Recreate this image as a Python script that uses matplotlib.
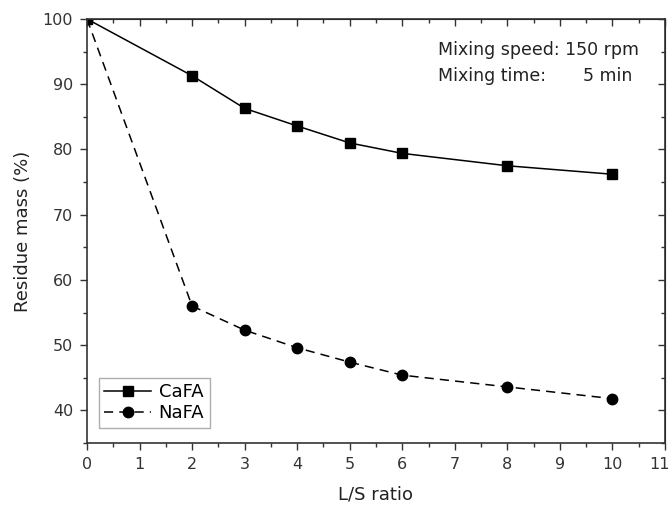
import matplotlib.pyplot as plt
import matplotlib.transforms as mtransforms
from matplotlib.ticker import MultipleLocator

# data
ls_ratio = [0, 2, 3, 4, 5, 6, 8, 10]
cafa_mass = [100, 91.3, 86.3, 83.6, 81.0, 79.4, 77.5, 76.2]
nafa_mass = [100, 56.0, 52.3, 49.6, 47.4, 45.4, 43.6, 41.8]

plt.rcParams["font.family"] = ["DejaVu Sans"]
plt.rcParams["font.size"] = 11

fig = plt.figure(figsize=(6.72, 5.16), dpi=100)
ax = fig.add_axes([87 / 672, 1 - 443 / 516, 578 / 672, 424 / 516])

ax.plot(ls_ratio, cafa_mass, "-", color="black", lw=1.1,
        marker="s", ms=7.5, label="CaFA")
ax.plot(ls_ratio, nafa_mass, "--", color="black", lw=1.1,
        marker="o", ms=7.5, dashes=(6, 4), label="NaFA")

ax.set_xlim(0, 11)
ax.set_ylim(35, 100)
ax.set_xticks(range(0, 12))
ax.xaxis.set_minor_locator(MultipleLocator(0.5))
ax.set_yticks(range(40, 101, 10))
ax.yaxis.set_minor_locator(MultipleLocator(5))
ax.tick_params(which="major", direction="out", length=5, width=1,
               labelsize=11.5, colors="#333333", pad=5)
ax.tick_params(which="minor", direction="out", length=3, width=1, colors="#333333")
for s in ax.spines.values():
    s.set_linewidth(1.2)
    s.set_color("#333333")

# last x label sits right at the figure edge; nudge it in a little
fig.canvas.draw()
last = ax.get_xticklabels()[-1]
last.set_transform(last.get_transform() + mtransforms.ScaledTranslation(-4 / 72, 0, fig.dpi_scale_trans))

# mirrored ticks on top/right, pointing inward
top = ax.secondary_xaxis("top")
top.xaxis.set_major_locator(MultipleLocator(1))
top.xaxis.set_minor_locator(MultipleLocator(0.5))
top.tick_params(which="major", direction="in", length=5, width=1, labeltop=False, colors="#333333")
top.tick_params(which="minor", direction="in", length=3, width=1, colors="#333333")
right = ax.secondary_yaxis("right")
right.yaxis.set_major_locator(MultipleLocator(10))
right.yaxis.set_minor_locator(MultipleLocator(5))
right.tick_params(which="major", direction="in", length=5, width=1, labelright=False, colors="#333333")
right.tick_params(which="minor", direction="in", length=3, width=1, colors="#333333")

ax.set_xlabel("L/S ratio", fontsize=13, labelpad=10, color="#222222")
ax.set_ylabel("Residue mass (%)", fontsize=13, labelpad=8, color="#222222")

ax.text(0.607, 0.927, "Mixing speed: 150 rpm", transform=ax.transAxes,
        fontsize=12.5, va="center", ha="left", color="#222222")
ax.text(0.607, 0.866, "Mixing time:", transform=ax.transAxes,
        fontsize=12.5, va="center", ha="left", color="#222222")
ax.text(0.858, 0.866, "5 min", transform=ax.transAxes,
        fontsize=12.5, va="center", ha="left", color="#222222")

leg = ax.legend(loc="lower left", bbox_to_anchor=(0.005, 0.015), fontsize=13,
                frameon=True, fancybox=False, edgecolor="#999999",
                handlelength=2.6, borderpad=0.3, labelspacing=0.15, handletextpad=0.4)
leg.get_frame().set_linewidth(1.0)

fig.savefig("out.png", dpi=100)
